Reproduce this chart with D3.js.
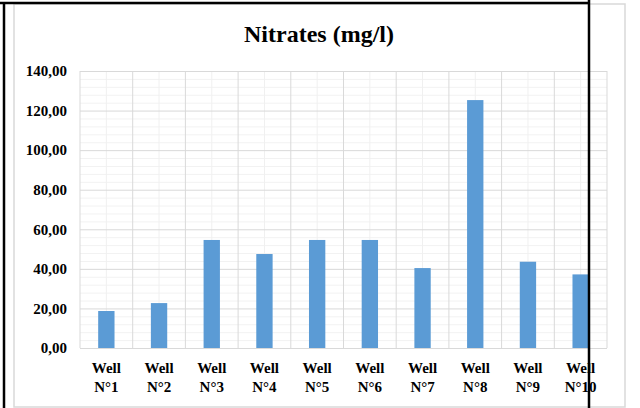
<!DOCTYPE html>
<html>
<head>
<meta charset="utf-8">
<script src="https://cdn.jsdelivr.net/npm/d3@7"></script>
<style>
  body { margin: 0; background: #fff; }
  svg { display: block; }
  text { font-family: "Liberation Serif", "Times New Roman", serif; font-weight: bold; fill: #000; }
</style>
</head>
<body>
<div id="chart"></div>
<script>
const wells = ["N°1", "N°2", "N°3", "N°4", "N°5", "N°6", "N°7", "N°8", "N°9", "N°10"];
const nitrates = [18.7, 22.7, 54.6, 47.5, 54.6, 54.6, 40.4, 125.3, 43.6, 37.2];
const yTicks = [0, 20, 40, 60, 80, 100, 120, 140];
const title = "Nitrates (mg/l)";

const W = 640, H = 408;
const plot = { left: 80, right: 607, top: 71, bottom: 348 };

const svg = d3.select("#chart").append("svg")
  .attr("width", W)
  .attr("height", H);

// chart area border
svg.append("rect")
  .attr("x", 14).attr("y", 4)
  .attr("width", 611).attr("height", 403)
  .attr("fill", "#fff")
  .attr("stroke", "#d9d9d9")
  .attr("stroke-width", 1.5);

const x = d3.scaleBand()
  .domain(wells)
  .range([plot.left, plot.right])
  .paddingInner(0.69)
  .paddingOuter(0.345);

const y = d3.scaleLinear()
  .domain([0, 140])
  .range([plot.bottom, plot.top]);

const grid = svg.append("g");

// minor horizontal grid every 4
const minor = d3.range(0, 141, 4).filter(v => v % 20 !== 0);
grid.selectAll(".hminor").data(minor).join("line")
  .attr("x1", plot.left).attr("x2", plot.right)
  .attr("y1", d => y(d) + 0.5).attr("y2", d => y(d) + 0.5)
  .attr("stroke", "#f2f2f2");

// vertical grid: category centers (minor) and boundaries (major)
const step = x.step();
grid.selectAll(".vminor").data(wells).join("line")
  .attr("x1", d => x(d) + x.bandwidth() / 2).attr("x2", d => x(d) + x.bandwidth() / 2)
  .attr("y1", plot.top).attr("y2", plot.bottom)
  .attr("stroke", "#f0f0f0");

const bounds = d3.range(wells.length + 1).map(i => plot.left + i * step);
grid.selectAll(".vmajor").data(bounds).join("line")
  .attr("x1", d => d).attr("x2", d => d)
  .attr("y1", plot.top).attr("y2", plot.bottom)
  .attr("stroke", "#d9d9d9");

grid.selectAll(".hmajor").data(yTicks).join("line")
  .attr("x1", plot.left).attr("x2", plot.right)
  .attr("y1", d => y(d) + 0.5).attr("y2", d => y(d) + 0.5)
  .attr("stroke", "#d9d9d9");

// bars
svg.append("g").selectAll("rect").data(nitrates).join("rect")
  .attr("x", (d, i) => x(wells[i]))
  .attr("y", d => y(d))
  .attr("width", x.bandwidth())
  .attr("height", d => y(0) - y(d))
  .attr("fill", "#5b9bd5");

// axis line
svg.append("line")
  .attr("x1", plot.left).attr("x2", plot.right)
  .attr("y1", y(0) + 0.5).attr("y2", y(0) + 0.5)
  .attr("stroke", "#d9d9d9")
  .attr("stroke-width", 1.2);

// y labels
const fmt = v => d3.format(".2f")(v).replace(".", ",");
svg.append("g").selectAll("text").data(yTicks).join("text")
  .attr("x", 67)
  .attr("y", d => y(d))
  .attr("dy", "0.35em")
  .attr("text-anchor", "end")
  .attr("font-size", "15px")
  .text(fmt);

// x labels
const xl = svg.append("g").selectAll("g").data(wells).join("g")
  .attr("transform", d => `translate(${x(d) + x.bandwidth() / 2},0)`);
xl.append("text")
  .attr("y", 373)
  .attr("text-anchor", "middle")
  .attr("font-size", "15px")
  .text("Well");
xl.append("text")
  .attr("y", 392)
  .attr("text-anchor", "middle")
  .attr("font-size", "15px")
  .text(d => d);

// title
svg.append("text")
  .attr("x", 319)
  .attr("y", 42)
  .attr("text-anchor", "middle")
  .attr("font-size", "24px")
  .text(title);

// black frame lines drawn over the chart
svg.append("line")
  .attr("x1", 0).attr("x2", 590).attr("y1", 3).attr("y2", 3)
  .attr("stroke", "#000").attr("stroke-width", 2.5);
svg.append("line")
  .attr("x1", 4).attr("x2", 4).attr("y1", 2).attr("y2", H)
  .attr("stroke", "#000").attr("stroke-width", 2.5);
svg.append("line")
  .attr("x1", 589).attr("x2", 589).attr("y1", 0).attr("y2", H)
  .attr("stroke", "#000").attr("stroke-width", 2.5);
</script>
</body>
</html>
